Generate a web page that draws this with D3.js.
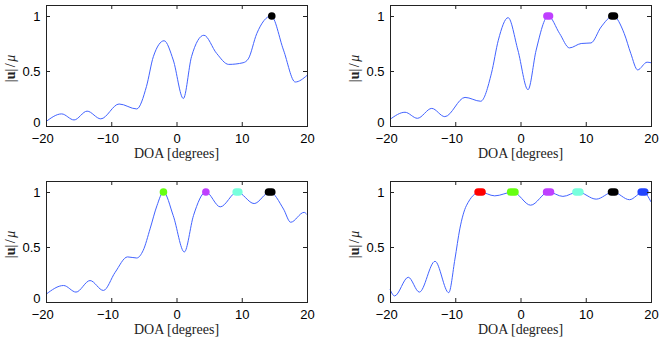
<!DOCTYPE html>
<html>
<head>
<meta charset="utf-8">
<script src="https://cdn.jsdelivr.net/npm/d3@7"></script>
<style>
  body { margin: 0; background: #fff; }
  .tick text { font-family: "Liberation Sans", Arial, sans-serif; font-size: 13px; fill: #000; }
  .lbl { font-family: "Liberation Serif", "DejaVu Serif", serif; font-size: 14px; fill: #222; }
</style>
</head>
<body>
<div class="canvas"></div>
<script>
// DOA (degrees) and normalised gain |u|/mu
const doa1 = [-20, -17.6, -15.7, -13.7, -11.6, -8.8, -6.1, -4.6, -3.55, -1.9, -0.5, 1.05, 2.3, 4.2, 6.15, 8.0, 10.2, 11.0, 12.3, 14.5, 16.4, 18.2, 20]
const gain1 = [0.04, 0.11, 0.055, 0.135, 0.065, 0.20, 0.155, 0.36, 0.63, 0.775, 0.6, 0.25, 0.63, 0.825, 0.66, 0.56, 0.575, 0.61, 0.84, 1.0, 0.69, 0.40, 0.46]

const doa2 = [-20, -17.7, -15.8, -13.6, -11.6, -8.5, -6.1, -4.45, -3.4, -1.9, -0.4, 1.15, 2.4, 4.25, 6.0, 7.5, 9.3, 10.8, 12.35, 14.2, 15.9, 16.9, 17.95, 19.4, 20]
const gain2 = [0.06, 0.125, 0.07, 0.16, 0.085, 0.26, 0.225, 0.48, 0.78, 0.985, 0.69, 0.33, 0.69, 1.0, 0.84, 0.71, 0.75, 0.755, 0.9, 1.0, 0.84, 0.66, 0.51, 0.58, 0.575]

const doa3 = [-20, -17.3, -15.4, -13.25, -11.2, -9.4, -7.5, -6.1, -5.1, -4.05, -3.0, -2.0, -0.5, 1.2, 2.6, 4.5, 6.7, 9.3, 11.9, 14.3, 16.4, 17.5, 19.55, 20]
const gain3 = [0.07, 0.15, 0.09, 0.195, 0.105, 0.27, 0.41, 0.40, 0.47, 0.665, 0.875, 1.0, 0.785, 0.455, 0.785, 1.0, 0.865, 1.0, 0.895, 1.0, 0.845, 0.725, 0.815, 0.795]

const doa4 = [-20, -19.3, -17.2, -15.5, -13.1, -11.0, -10.05, -9.3, -8.3, -6.2, -3.95, -1.15, 1.55, 4.3, 6.5, 8.8, 11.6, 14.2, 16.7, 18.8, 20]
const gain4 = [0.115, 0.055, 0.225, 0.09, 0.37, 0.085, 0.39, 0.665, 0.875, 1.0, 0.965, 1.0, 0.88, 1.0, 0.96, 1.0, 0.935, 1.0, 0.93, 1.0, 0.91]

// detected peaks: start/end of each marker in degrees, and its colour
const peaks1 = [[14.6, 14.6]]
const colors1 = ['#000000']
const peaks2 = [[4.05, 4.45], [14.0, 14.4]]
const colors2 = ['#bf3fff', '#000000']
const peaks3 = [[-2.0, -2.0], [4.5, 4.5], [9.15, 9.55], [14.1, 14.6]]
const colors3 = ['#66ff11', '#bf3fff', '#77ffdd', '#000000']
const peaks4 = [[-6.5, -5.9], [-1.5, -0.85], [4.0, 4.6], [8.5, 9.1], [13.95, 14.45], [18.5, 19.05]]
const colors4 = ['#ff0000', '#66ff11', '#bf3fff', '#77ffdd', '#000000', '#2244ff']

const xTicks = [-20, -10, 0, 10, 20]
const yTicks = [0, 0.5, 1]

const W = 664, H = 343
const pw = 261, ph = 121
const panels = [
  {left: 46, top: 5, doa: doa1, gain: gain1, peaks: peaks1, colors: colors1},
  {left: 390, top: 5, doa: doa2, gain: gain2, peaks: peaks2, colors: colors2},
  {left: 46, top: 181, doa: doa3, gain: gain3, peaks: peaks3, colors: colors3},
  {left: 390, top: 181, doa: doa4, gain: gain4, peaks: peaks4, colors: colors4}
]

const svg = d3.select('.canvas')
  .append('svg')
  .attr('width', W)
  .attr('height', H)

const x = d3.scaleLinear().domain([-20, 20]).range([0, pw])
const y = d3.scaleLinear().domain([0, 1.1]).range([ph, 0])
const r = 3.8

panels.forEach(p => {
  const g = svg.append('g')
    .attr('transform', `translate(${p.left}, ${p.top})`)

  const pts = p.doa.map((d, i) => [d, p.gain[i]])
  const line = d3.line()
    .x(d => x(d[0]))
    .y(d => y(d[1]))
    .curve(d3.curveMonotoneX)

  g.append('path')
    .datum(pts)
    .attr('d', line)
    .attr('fill', 'none')
    .attr('stroke', '#4263ff')
    .attr('stroke-width', 1)

  g.selectAll('.peak')
    .data(p.peaks)
    .enter()
    .append('rect')
    .attr('class', 'peak')
    .attr('x', d => x(d[0]) - r)
    .attr('width', d => x(d[1]) - x(d[0]) + 2 * r)
    .attr('y', y(1) - r)
    .attr('height', 2 * r)
    .attr('rx', r)
    .attr('ry', r)
    .attr('fill', (d, i) => p.colors[i])

  // box with inward ticks on all sides
  const xAxis = d3.axisBottom(x).tickValues(xTicks).tickSizeInner(-4).tickSizeOuter(0).tickPadding(7.5)
  const yAxis = d3.axisLeft(y).tickValues(yTicks).tickSizeInner(-4).tickSizeOuter(0).tickPadding(5.5)
    .tickFormat(d => d)

  const xg = g.append('g').attr('transform', `translate(0, ${ph})`).call(xAxis)
  xg.selectAll('.tick text').attr('dx', d => d < 0 ? -3.8 : 0)
  const yg = g.append('g').call(yAxis)
  yg.selectAll('.tick').filter(d => d === 0).select('text').attr('dy', '0.02em')

  g.append('g').call(d3.axisTop(x).tickValues(xTicks).tickSizeInner(-4).tickSizeOuter(0).tickFormat(''))
  g.append('g').attr('transform', `translate(${pw}, 0)`)
    .call(d3.axisRight(y).tickValues(yTicks).tickSizeInner(-4).tickSizeOuter(0).tickFormat(''))

  g.selectAll('.domain').remove()
  g.selectAll('.tick line').attr('stroke', '#222')

  g.append('rect')
    .attr('width', pw)
    .attr('height', ph)
    .attr('fill', 'none')
    .attr('stroke', '#222')
    .attr('stroke-width', 1)
    .attr('shape-rendering', 'crispEdges')

  g.append('text')
    .attr('class', 'lbl')
    .attr('x', pw / 2)
    .attr('y', ph + 32)
    .attr('text-anchor', 'middle')
    .text('DOA [degrees]')

  const yl = g.append('text')
    .attr('class', 'lbl')
    .attr('transform', `translate(-35, ${ph / 2 + 3}) rotate(-90)`)
    .attr('text-anchor', 'middle')
    .attr('dy', '0.3em')
  yl.append('tspan').text('|')
  yl.append('tspan').attr('font-weight', 'bold').text('u')
  yl.append('tspan').text('|')
  yl.append('tspan').attr('dx', 1.5).text('/')
  yl.append('tspan').attr('dx', 1.5).attr('font-style', 'italic').text('μ')
})
</script>
</body>
</html>
